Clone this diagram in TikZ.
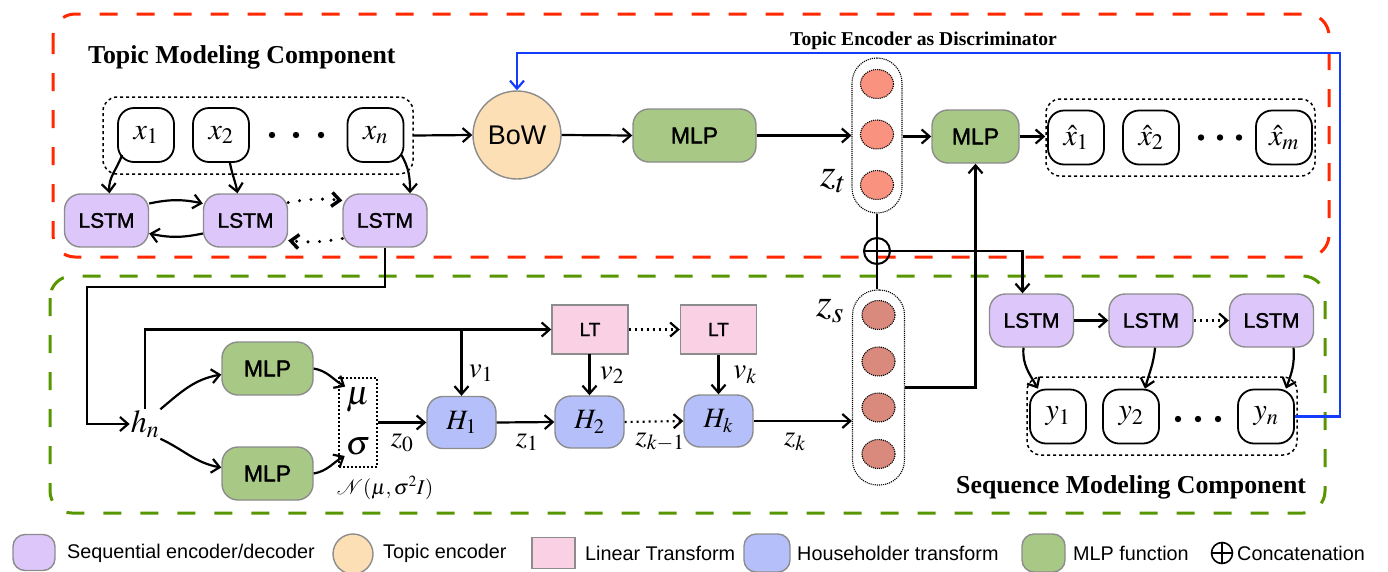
\documentclass[tikz,border=0pt]{standalone}
\usepackage{mathptmx}
\usepackage{fontspec}
\setmainfont{Liberation Serif}
\newfontfamily\lsans{Liberation Sans}
\newfontfamily\lsansm[FakeBold=1.6]{Liberation Sans}
\usetikzlibrary{arrows.meta,shapes.geometric,calc}
\definecolor{lstmc}{RGB}{221,199,250}
\definecolor{bowc}{RGB}{253,223,181}
\definecolor{ltc}{RGB}{249,208,228}
\definecolor{hhc}{RGB}{181,192,250}
\definecolor{mlpc}{RGB}{168,200,134}
\definecolor{ztc}{RGB}{250,146,128}
\definecolor{zsc}{RGB}{217,138,125}
\definecolor{redd}{RGB}{255,40,0}
\definecolor{greend}{RGB}{88,150,0}
\definecolor{bluel}{RGB}{20,60,255}
\definecolor{bord}{RGB}{140,140,140}
\tikzset{
 box/.style={draw=bord, line width=1.4pt, rounded corners=16pt, inner sep=0pt, font=\lsansm\fontsize{21}{25}\selectfont},
 lstm/.style={box, fill=lstmc, minimum width=84pt, minimum height=53pt},
 mlp/.style={box, fill=mlpc, minimum height=53pt, font=\lsansm\fontsize{23}{27}\selectfont},
 hh/.style={box, fill=hhc, minimum width=69pt, minimum height=52pt, font=\fontsize{28}{32}\selectfont},
 ltbox/.style={draw=bord, line width=1.4pt, fill=ltc, minimum width=76pt, minimum height=49pt, inner sep=0pt, font=\lsansm\fontsize{19}{23}\selectfont},
 tok/.style={draw, line width=1.8pt, rounded corners=16pt, minimum width=56pt, minimum height=54pt, inner sep=0pt, font=\fontsize{30}{34}\selectfont},
 grp/.style={draw, line width=1.5pt, dash pattern=on 3pt off 3pt, rounded corners=14pt, inner sep=0pt},
 caps/.style={draw, line width=1.1pt, densely dotted, rounded corners=25pt, inner sep=0pt},
 neu/.style={ellipse, draw, line width=1.1pt, densely dotted, minimum width=33pt, minimum height=29pt, inner sep=0pt},
 arr/.style={-{Straight Barb[length=8pt,width=14pt]}, line width=2.2pt},
 bigdots/.style={arr, line width=3.4pt, dash pattern=on 0pt off 11.5pt, line cap=round},
 smalldots/.style={arr, dash pattern=on 2pt off 4pt},
 lbl/.style={inner sep=1pt, font=\fontsize{29}{33}\selectfont},
 title/.style={inner sep=0pt, anchor=base west, font=\bfseries\fontsize{25.8}{30}\selectfont},
 legtxt/.style={inner sep=0pt, anchor=west, font=\lsans\fontsize{19.8}{24}\selectfont},
 legbox/.style={draw=bord, line width=1.4pt, rounded corners=12pt, inner sep=0pt},
 catc/.style={circle, draw, line width=2pt, minimum size=26pt, inner sep=0pt,
   path picture={\draw[line width=2pt] (path picture bounding box.north) -- (path picture bounding box.south)
   (path picture bounding box.west) -- (path picture bounding box.east);}},
}
\begin{document}
\begin{tikzpicture}[x=1pt,y=1pt]
\useasboundingbox (0,0) rectangle (1388,-571);
% component frames
\draw[redd, line width=3pt, dash pattern=on 18pt off 19pt, rounded corners=22pt] (53,-14) rectangle (1329,-257);
\draw[greend, line width=3pt, dash pattern=on 18pt off 19pt, rounded corners=22pt] (50,-276) rectangle (1325,-513);
\node[title] (t1) at (88,-63) {Topic Modeling Component};
\node[title] (t2) at (956,-493) {Sequence Modeling Component};
\node[title, font=\bfseries\fontsize{19.6}{23}\selectfont] (t3) at (790,-45) {Topic Encoder as Discriminator};

% input tokens
\node[grp, minimum width=310pt, minimum height=77pt] (xg) at (258,-135.5) {};
\node[tok] (x1) at (146,-135) {$x_1$};
\node[tok] (x2) at (221,-135) {$x_2$};
\node[tok] (xn) at (375.5,-135) {$x_n$};
\foreach \x in {272,296,321} \fill (\x,-135) circle (3.2pt);

% encoder LSTMs
\node[lstm] (l1) at (106.5,-220.5) {LSTM};
\node[lstm] (l2) at (245.5,-220.5) {LSTM};
\node[lstm] (l3) at (385,-220.5) {LSTM};
\draw[arr] ([shift={(5pt,8pt)}]x1.south west) to[out=-110,in=95] ([xshift=3pt]l1.north);
\draw[arr] ([xshift=9pt]x2.south) to[out=-80,in=100] ([xshift=-8pt]l2.north);
\draw[arr] ([shift={(-3pt,8pt)}]xn.south east) to[out=-60,in=90] ([xshift=25pt]l3.north);
\draw[arr] ([yshift=17pt]l1.east) to[bend left=12] ([yshift=17pt]l2.west);
\draw[arr] ([yshift=-13pt]l2.west) to[bend left=12] ([yshift=-13pt]l1.east);
\draw[bigdots] ([yshift=18pt]l2.east) to[bend left=8] ([yshift=20pt]l3.west);
\draw[bigdots] ([yshift=-18pt]l3.west) to[bend left=8] ([yshift=-20pt]l2.east);

% topic path
\node[circle, draw=bord, line width=1.4pt, fill=bowc, minimum size=88pt, inner sep=0pt, font=\lsans\fontsize{27}{31}\selectfont] (bow) at (517,-135) {BoW};
\node[mlp, minimum width=123pt] (m1) at (694.5,-135.5) {MLP};
\node[caps, minimum width=50pt, minimum height=155pt] (zt) at (877,-135.5) {};
\node[neu, fill=ztc] (t1n) at (877,-84) {};
\node[neu, fill=ztc] (t2n) at (877,-134.5) {};
\node[neu, fill=ztc] (t3n) at (877,-185) {};
\node[lbl, font=\fontsize{40}{44}\selectfont] (ztl) at (833,-181) {$z_t$};
\node[mlp, minimum width=87pt] (m2) at (975.5,-136.5) {MLP};
\node[grp, minimum width=269pt, minimum height=77pt] (xhg) at (1180.5,-137.5) {};
\node[tok] (xh1) at (1076,-137.5) {$\hat{x}_1$};
\node[tok] (xh2) at (1151,-137.5) {$\hat{x}_2$};
\node[tok] (xhm) at (1284,-137.5) {$\hat{x}_m$};
\foreach \x in {1201,1220,1239} \fill (\x,-137.5) circle (3.2pt);
\draw[arr] (xg.east) -- (bow.west);
\draw[arr] (bow.east) -- (m1.west);
\draw[arr] (m1.east) -- (m1.east -| zt.west);
\draw[arr] (zt.east |- m2.west) -- (m2.west);
\draw[arr] (m2.east) -- (m2.east -| xhg.west);

% concatenation
\node[catc] (cat) at (877,-251) {};
\node[caps, minimum width=52pt, minimum height=195pt] (zs) at (878.5,-387.5) {};
\node[neu, fill=zsc] (s1n) at (878.5,-315) {};
\node[neu, fill=zsc] (s2n) at (878.5,-361.5) {};
\node[neu, fill=zsc] (s3n) at (878.5,-407.5) {};
\node[neu, fill=zsc] (s4n) at (878.5,-454) {};
\node[lbl, font=\fontsize{40}{44}\selectfont] (zsl) at (830,-311) {$z_s$};
\draw[line width=2.2pt] (zt.south) -- (cat.north);
\draw[line width=2.2pt] (cat.south) -- (cat.south |- zs.north);

% decoder
\node[lstm] (d1) at (1031.5,-320.5) {LSTM};
\node[lstm] (d2) at (1151,-320.5) {LSTM};
\node[lstm] (d3) at (1271.5,-320.5) {LSTM};
\node[grp, minimum width=270pt, minimum height=78pt] (yg) at (1162,-416) {};
\node[tok] (y1) at (1058,-416.5) {$y_1$};
\node[tok] (y2) at (1131,-416.5) {$y_2$};
\node[tok] (yn) at (1266,-416.5) {$y_n$};
\foreach \x in {1178,1198,1218} \fill (\x,-419) circle (3.2pt);
\draw[arr] (cat.east) -| ([xshift=-9pt]d1.north);
\draw[arr] (zs.east) -| (m2.south);
\draw[arr] (d1.east) -- (d2.west);
\draw[smalldots] (d2.east) -- (d3.west);
\draw[arr] ([xshift=-8pt]d1.south) to[out=-95,in=120] ([xshift=-20pt]y1.north);
\draw[arr] ([xshift=4pt]d2.south) to[out=-95,in=75] ([xshift=14pt]y2.north);
\draw[arr] ([xshift=22pt]d3.south) to[out=-85,in=70] ([xshift=20pt]yn.north);

% discriminator feedback
\coordinate (b1) at (1340,-53);
\draw[bluel, arr, line width=2.2pt] (yn.east) -| (b1) -| (bow.north);

% sequence modelling: h_n and Householder flow
\node[lbl, font=\fontsize{32}{36}\selectfont] (hn) at (145,-424) {$h_n$};
\coordinate (c1) at (87,-287);
\draw[arr] (l3.south) |- (c1) |- (hn.west);
\node[mlp, minimum width=91pt] (ma) at (267.5,-368.5) {MLP};
\node[mlp, minimum width=91pt] (mb) at (267.5,-473.5) {MLP};
\node[draw, line width=2pt, dash pattern=on 2pt off 2pt, minimum width=38pt, minimum height=89pt, inner sep=0pt] (ms) at (358,-422.5) {};
\node[lbl, font=\fontsize{34}{38}\selectfont] (mu) at (358,-400) {$\mu$};
\node[lbl, font=\fontsize{34}{38}\selectfont] (sg) at (358,-446) {$\sigma$};
\node[lbl, font=\fontsize{21}{25}\selectfont] (nl) at (385,-488) {$\mathcal{N}(\mu,\sigma^2 I)$};
\draw[arr] (hn.north east) to[out=40,in=190] ([yshift=-6pt]ma.west);
\draw[arr] (hn.south east) to[out=-25,in=170] ([yshift=6pt]mb.west);
\draw[arr] (ma.east) to[out=-10,in=150] (mu.north west);
\draw[arr] (mb.east) to[out=10,in=-150] (sg.south west);

\node[hh] (h1) at (461.5,-422.5) {$H_1$};
\node[hh] (h2) at (589.5,-422) {$H_2$};
\node[hh] (hk) at (718.5,-421) {$H_k$};
\node[ltbox] (lt1) at (590,-329.5) {LT};
\node[ltbox] (lt2) at (718.5,-329.5) {LT};
\draw[arr] (hn.north) |- (lt1.west);
\draw[arr] (h1.north |- lt1.west) -- (h1.north);
\draw[smalldots] (lt1.east) -- (lt2.west);
\draw[arr] (lt1.south) -- (lt1.south -| h2.north) -- (h2.north);
\draw[arr] (lt2.south) -- (hk.north);
\draw[arr] (ms.east |- h1.west) -- (h1.west);
\draw[arr] (h1.east) -- (h2.west);
\draw[smalldots] (h2.east) -- (hk.west);
\draw[arr] (hk.east) -- (hk.east -| zs.west);
\node[lbl] (v1) at (481,-373) {$v_1$};
\node[lbl] (v2) at (612,-375) {$v_2$};
\node[lbl] (vk) at (745,-375) {$v_k$};
\node[lbl] (z0) at (402,-443) {$z_0$};
\node[lbl] (z1) at (527,-442) {$z_1$};
\node[lbl] (zk1) at (660,-442) {$z_{k-1}$};
\node[lbl] (zk) at (795,-442) {$z_k$};

% legend
\node[legbox, fill=lstmc, minimum width=42pt, minimum height=36pt] (g1) at (34,-552.5) {};
\node[legtxt] (g1t) at (67,-553) {Sequential encoder/decoder};
\node[ellipse, draw=bord, line width=1.4pt, fill=bowc, minimum width=40pt, minimum height=40pt, inner sep=0pt] (g2) at (353,-554) {};
\node[legtxt] (g2t) at (383,-553) {Topic encoder};
\node[draw=bord, line width=1.4pt, fill=ltc, minimum width=43pt, minimum height=31pt, inner sep=0pt] (g3) at (553.5,-553) {};
\node[legtxt] (g3t) at (585,-553) {Linear Transform};
\node[legbox, fill=hhc, minimum width=46pt, minimum height=38pt] (g4) at (767,-553) {};
\node[legtxt] (g4t) at (797,-553) {Householder transform};
\node[legbox, fill=mlpc, minimum width=43pt, minimum height=38pt] (g5) at (1043.5,-553) {};
\node[legtxt] (g5t) at (1073,-553) {MLP function};
\node[catc, line width=1.6pt, minimum size=21pt] (g6) at (1222,-553) {};
\node[legtxt] (g6t) at (1237,-553) {Concatenation};
\end{tikzpicture}
\end{document}
